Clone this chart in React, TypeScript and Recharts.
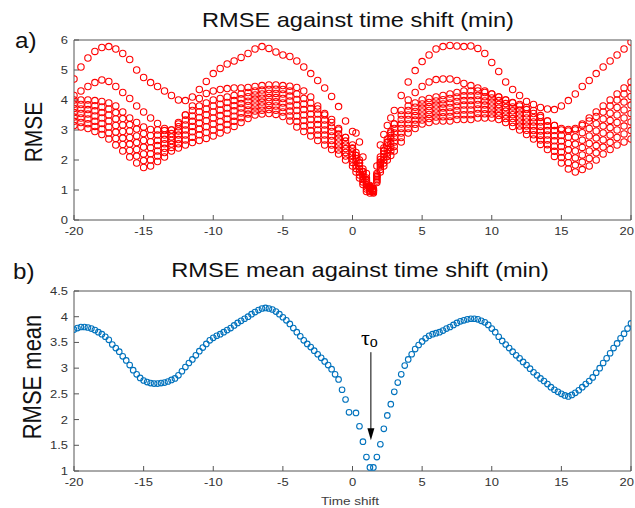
import { ScatterChart, Scatter, XAxis, YAxis, ReferenceLine, ReferenceDot } from "recharts";

// the source figure is stretched a little horizontally, text follows that
const SX = 1.18;
const SANS = "'Liberation Sans', Arial, Helvetica, sans-serif";
const SERIF = "'Liberation Serif', 'Times New Roman', serif";
const AXIS = "#555555";
const TICK_TEXT = "#333333";
const RED = "#ff0000";
const BLUE = "#0072bd";

const X_TICKS = [-20, -15, -10, -5, 0, 5, 10, 15, 20];
const TOP_Y_TICKS = [0, 1, 2, 3, 4, 5, 6];
const BOT_Y_TICKS = [1, 1.5, 2, 2.5, 3, 3.5, 4, 4.5];

// time shift (min), top panel sampling
const TOP_T = [
  -20, -19.5, -19, -18.5, -18, -17.5, -17, -16.5, -16, -15.5, -15, -14.5, -14, -13.5, -13, -12.5, -12, -11.5, -11, -10.5,
  -10, -9.5, -9, -8.5, -8, -7.5, -7, -6.5, -6, -5.5, -5, -4.5, -4, -3.5, -3, -2.5, -2, -1.5, -1, -0.5,
  0, 0.5, 1, 1.5, 2, 2.5, 3, 3.5, 4, 4.5, 5, 5.5, 6, 6.5, 7, 7.5, 8, 8.5, 9, 9.5,
  10, 10.5, 11, 11.5, 12, 12.5, 13, 13.5, 14, 14.5, 15, 15.5, 16, 16.5, 17, 17.5, 18, 18.5, 19, 19.5, 20,
];
// extra samples read around the steep minimum
const DIP_T = [0.25, 0.75, 1.25, 1.75, 2.25, 2.75];

// RMSE of each run (top panel)
const RUN_1 = [
  4.7, 5.1, 5.4, 5.62, 5.75, 5.78, 5.7, 5.55, 5.35, 5.0, 4.75, 4.58, 4.45, 4.3, 4.15, 4.0, 3.98, 4.1, 4.35, 4.62,
  4.88, 5.05, 5.2, 5.3, 5.42, 5.55, 5.7, 5.78, 5.72, 5.6, 5.5, 5.45, 5.3, 5.1, 4.88, 4.65, 4.4, 4.12, 3.78, 3.3,
  2.95, 2.6, 1.55, 0.98, 2.5, 3.15, 3.65, 4.15, 4.6, 4.98, 5.28, 5.5, 5.7, 5.78, 5.82, 5.8, 5.78, 5.8, 5.72, 5.55,
  5.25, 4.95, 4.6, 4.35, 4.15, 3.95, 3.85, 3.75, 3.7, 3.68, 3.8, 3.98, 4.2, 4.45, 4.65, 4.88, 5.1, 5.3, 5.5, 5.7, 5.93,
];
const RUN_2 = [
  4.15, 4.3, 4.45, 4.58, 4.67, 4.62, 4.45, 4.25, 4.05, 3.8, 3.6, 3.4, 3.22, 3.05, 3.0, 3.2, 3.5, 3.8, 4.05, 4.22,
  4.3, 4.35, 4.38, 4.4, 4.4, 4.42, 4.45, 4.48, 4.5, 4.5, 4.48, 4.46, 4.42, 4.3, 4.1, 3.8, 3.55, 3.35, 3.05, 2.75,
  2.4, 1.9, 1.3, 1.0, 1.9, 2.6, 3.2, 3.65, 4.0, 4.25, 4.45, 4.6, 4.68, 4.7, 4.7, 4.65, 4.55, 4.48, 4.4, 4.3,
  4.2, 4.1, 4.0, 3.92, 3.85, 3.75, 3.65, 3.48, 3.3, 3.15, 3.05, 3.02, 3.05, 3.2, 3.4, 3.6, 3.8, 4.0, 4.2, 4.4, 4.6,
];
const RUN_3 = [
  4.0, 4.0, 4.0, 3.98, 3.95, 3.9, 3.8, 3.6, 3.4, 3.25, 3.1, 3.02, 3.0, 2.98, 3.0, 3.25, 3.5, 3.65, 3.8, 3.9,
  4.0, 4.05, 4.1, 4.15, 4.2, 4.25, 4.3, 4.33, 4.35, 4.36, 4.35, 4.3, 4.2, 4.05, 3.9, 3.7, 3.5, 3.25, 3.0, 2.75,
  2.5, 2.0, 1.4, 1.05, 2.1, 2.7, 3.2, 3.5, 3.8, 3.9, 4.0, 4.05, 4.1, 4.15, 4.2, 4.25, 4.3, 4.3, 4.3, 4.25,
  4.2, 4.1, 4.0, 3.9, 3.8, 3.68, 3.55, 3.42, 3.3, 3.15, 3.0, 2.97, 3.0, 3.15, 3.3, 3.45, 3.6, 3.8, 4.0, 4.2, 4.4,
];
const RUN_4 = [
  3.86, 3.85, 3.84, 3.81, 3.77, 3.7, 3.58, 3.38, 3.18, 3.03, 2.88, 2.82, 2.83, 2.83, 2.88, 3.11, 3.33, 3.47, 3.61, 3.7,
  3.8, 3.86, 3.92, 3.98, 4.04, 4.11, 4.17, 4.2, 4.22, 4.22, 4.2, 4.13, 4.02, 3.87, 3.72, 3.53, 3.33, 3.1, 2.87, 2.63,
  2.38, 1.9, 1.33, 1.03, 2.02, 2.58, 3.05, 3.35, 3.65, 3.76, 3.87, 3.92, 3.97, 4.01, 4.05, 4.1, 4.14, 4.14, 4.15, 4.11,
  4.07, 3.98, 3.88, 3.77, 3.67, 3.54, 3.41, 3.27, 3.14, 2.98, 2.82, 2.76, 2.77, 2.91, 3.05, 3.21, 3.37, 3.56, 3.75, 3.93, 4.12,
];
const RUN_5 = [
  3.72, 3.7, 3.68, 3.64, 3.58, 3.5, 3.37, 3.17, 2.97, 2.8, 2.65, 2.61, 2.65, 2.69, 2.77, 2.97, 3.17, 3.29, 3.42, 3.51,
  3.6, 3.67, 3.73, 3.81, 3.88, 3.96, 4.03, 4.06, 4.08, 4.08, 4.05, 3.97, 3.83, 3.68, 3.53, 3.35, 3.17, 2.95, 2.73, 2.5,
  2.27, 1.8, 1.25, 1.0, 1.93, 2.47, 2.9, 3.2, 3.5, 3.62, 3.73, 3.78, 3.83, 3.87, 3.9, 3.95, 3.98, 3.98, 4.0, 3.97,
  3.93, 3.85, 3.75, 3.64, 3.53, 3.4, 3.27, 3.12, 2.98, 2.81, 2.63, 2.55, 2.53, 2.66, 2.8, 2.97, 3.13, 3.32, 3.5, 3.67, 3.83,
];
const RUN_6 = [
  3.58, 3.55, 3.53, 3.47, 3.4, 3.3, 3.15, 2.95, 2.75, 2.58, 2.43, 2.41, 2.48, 2.54, 2.65, 2.83, 3.0, 3.12, 3.23, 3.31,
  3.4, 3.48, 3.55, 3.64, 3.73, 3.82, 3.9, 3.93, 3.95, 3.94, 3.9, 3.8, 3.65, 3.5, 3.35, 3.18, 3.0, 2.8, 2.6, 2.38,
  2.15, 1.7, 1.18, 0.98, 1.85, 2.35, 2.75, 3.05, 3.35, 3.48, 3.6, 3.65, 3.7, 3.73, 3.75, 3.8, 3.83, 3.83, 3.85, 3.83,
  3.8, 3.73, 3.63, 3.51, 3.4, 3.27, 3.13, 2.97, 2.83, 2.64, 2.45, 2.34, 2.3, 2.42, 2.55, 2.73, 2.9, 3.08, 3.25, 3.4, 3.55,
];
const RUN_7 = [
  3.43, 3.4, 3.37, 3.29, 3.22, 3.1, 2.93, 2.73, 2.53, 2.35, 2.2, 2.21, 2.3, 2.39, 2.53, 2.68, 2.83, 2.94, 3.03, 3.11,
  3.2, 3.28, 3.37, 3.46, 3.57, 3.67, 3.77, 3.8, 3.82, 3.8, 3.75, 3.63, 3.47, 3.32, 3.17, 3.0, 2.83, 2.65, 2.47, 2.25,
  2.03, 1.6, 1.1, 0.95, 1.77, 2.23, 2.6, 2.9, 3.2, 3.33, 3.47, 3.52, 3.57, 3.58, 3.6, 3.65, 3.67, 3.67, 3.7, 3.68,
  3.67, 3.6, 3.5, 3.38, 3.27, 3.13, 2.98, 2.82, 2.67, 2.46, 2.27, 2.12, 2.07, 2.17, 2.3, 2.48, 2.67, 2.83, 3.0, 3.13, 3.27,
];
const RUN_8 = [
  3.29, 3.25, 3.21, 3.12, 3.03, 2.9, 2.72, 2.52, 2.32, 2.13, 1.98, 2.0, 2.13, 2.25, 2.42, 2.54, 2.67, 2.76, 2.84, 2.92,
  3.0, 3.09, 3.18, 3.29, 3.41, 3.53, 3.63, 3.66, 3.68, 3.66, 3.6, 3.47, 3.28, 3.13, 2.98, 2.83, 2.67, 2.5, 2.33, 2.13,
  1.92, 1.5, 1.03, 0.93, 1.68, 2.12, 2.45, 2.75, 3.05, 3.19, 3.33, 3.38, 3.43, 3.44, 3.45, 3.5, 3.51, 3.51, 3.55, 3.54,
  3.53, 3.48, 3.38, 3.25, 3.13, 2.99, 2.84, 2.67, 2.51, 2.29, 2.08, 1.91, 1.83, 1.93, 2.05, 2.24, 2.43, 2.59, 2.75, 2.87, 2.98,
];
const RUN_9 = [
  3.15, 3.1, 3.05, 2.95, 2.85, 2.7, 2.5, 2.3, 2.1, 1.9, 1.75, 1.8, 1.95, 2.1, 2.3, 2.4, 2.5, 2.58, 2.65, 2.72,
  2.8, 2.9, 3.0, 3.12, 3.25, 3.38, 3.5, 3.53, 3.55, 3.52, 3.45, 3.3, 3.1, 2.95, 2.8, 2.65, 2.5, 2.35, 2.2, 2.0,
  1.8, 1.4, 0.95, 0.9, 1.6, 2.0, 2.3, 2.6, 2.9, 3.05, 3.2, 3.25, 3.3, 3.3, 3.3, 3.35, 3.35, 3.35, 3.4, 3.4,
  3.4, 3.35, 3.25, 3.12, 3.0, 2.85, 2.7, 2.52, 2.35, 2.12, 1.9, 1.7, 1.6, 1.68, 1.8, 2.0, 2.2, 2.35, 2.5, 2.6, 2.7,
];
const RUNS = [RUN_1, RUN_2, RUN_3, RUN_4, RUN_5, RUN_6, RUN_7, RUN_8, RUN_9];

// values of each run at DIP_T
const DIP_1 = [2.9, 2.1, 1.1, 1.8, 2.85, 3.4];
const DIP_2 = [2.15, 1.6, 1.05, 1.45, 2.3, 2.9];
const DIP_3 = [2.25, 1.7, 1.15, 1.55, 2.4, 2.95];
const DIP_4 = [2.15, 1.62, 1.12, 1.5, 2.3, 2.82];
const DIP_5 = [2.05, 1.52, 1.08, 1.45, 2.2, 2.7];
const DIP_6 = [1.95, 1.45, 1.05, 1.4, 2.1, 2.55];
const DIP_7 = [1.82, 1.35, 1.0, 1.35, 2.0, 2.42];
const DIP_8 = [1.72, 1.27, 0.96, 1.3, 1.9, 2.3];
const DIP_9 = [1.6, 1.18, 0.9, 1.25, 1.8, 2.15];
const DIPS = [DIP_1, DIP_2, DIP_3, DIP_4, DIP_5, DIP_6, DIP_7, DIP_8, DIP_9];

// bottom panel sampling and mean RMSE (no marker visible at 0)
const MEAN_T = [
  -20, -19.75, -19.5, -19.25, -19, -18.75, -18.5, -18.25, -18, -17.75,
  -17.5, -17.25, -17, -16.75, -16.5, -16.25, -16, -15.75, -15.5, -15.25,
  -15, -14.75, -14.5, -14.25, -14, -13.75, -13.5, -13.25, -13, -12.75,
  -12.5, -12.25, -12, -11.75, -11.5, -11.25, -11, -10.75, -10.5, -10.25,
  -10, -9.75, -9.5, -9.25, -9, -8.75, -8.5, -8.25, -8, -7.75,
  -7.5, -7.25, -7, -6.75, -6.5, -6.25, -6, -5.75, -5.5, -5.25,
  -5, -4.75, -4.5, -4.25, -4, -3.75, -3.5, -3.25, -3, -2.75,
  -2.5, -2.25, -2, -1.75, -1.5, -1.25, -1, -0.75, -0.5, -0.25,
  0,
  0.25, 0.5, 0.75, 1, 1.25, 1.5, 1.75, 2, 2.25, 2.5,
  2.75, 3, 3.25, 3.5, 3.75, 4, 4.25, 4.5, 4.75, 5,
  5.25, 5.5, 5.75, 6, 6.25, 6.5, 6.75, 7, 7.25, 7.5,
  7.75, 8, 8.25, 8.5, 8.75, 9, 9.25, 9.5, 9.75, 10,
  10.25, 10.5, 10.75, 11, 11.25, 11.5, 11.75, 12, 12.25, 12.5,
  12.75, 13, 13.25, 13.5, 13.75, 14, 14.25, 14.5, 14.75, 15,
  15.25, 15.5, 15.75, 16, 16.25, 16.5, 16.75, 17, 17.25, 17.5,
  17.75, 18, 18.25, 18.5, 18.75, 19, 19.25, 19.5, 19.75, 20,
];
const MEAN_RMSE = [
  3.75, 3.78, 3.8, 3.8, 3.79, 3.77, 3.74, 3.7, 3.66, 3.61,
  3.55, 3.46, 3.39, 3.32, 3.23, 3.15, 3.06, 2.96, 2.88, 2.81,
  2.76, 2.73, 2.71, 2.7, 2.7, 2.71, 2.72, 2.74, 2.77, 2.8,
  2.86, 2.94, 3.02, 3.1, 3.17, 3.25, 3.33, 3.4, 3.47, 3.54,
  3.59, 3.63, 3.66, 3.7, 3.74, 3.78, 3.83, 3.88, 3.92, 3.96,
  4.0, 4.05, 4.09, 4.13, 4.16, 4.17, 4.16, 4.14, 4.1, 4.05,
  3.99, 3.93, 3.86, 3.78, 3.7, 3.62, 3.54, 3.47, 3.41, 3.34,
  3.27, 3.2, 3.13, 3.06, 2.98, 2.88, 2.78, 2.58, 2.39, 2.14,
  null,
  2.13, 1.87, 1.57, 1.27, 1.07, 1.07, 1.27, 1.52, 1.82, 2.08,
  2.3, 2.54, 2.72, 2.88, 3.05, 3.17, 3.27, 3.37, 3.45, 3.52,
  3.58, 3.63, 3.66, 3.68, 3.7, 3.73, 3.77, 3.8, 3.84, 3.88,
  3.91, 3.93, 3.95, 3.96, 3.96, 3.95, 3.92, 3.89, 3.84, 3.77,
  3.7, 3.61, 3.53, 3.46, 3.39, 3.32, 3.25, 3.19, 3.12, 3.06,
  2.99, 2.92, 2.86, 2.8, 2.75, 2.69, 2.63, 2.58, 2.54, 2.5,
  2.47, 2.45, 2.48, 2.52, 2.57, 2.63, 2.69, 2.75, 2.82, 2.91,
  3.0, 3.1, 3.19, 3.29, 3.39, 3.48, 3.58, 3.67, 3.77, 3.87,
];

// tau_o marker: arrow from the label down to the minimum
const TAU = 1.32;
const ARROW_TOP = 3.31;
const ARROW_TIP = 1.6;

const XTick = ({ x, y, payload }: any) => {
  // last label is pulled in so it stays inside the page
  const last = payload.value === X_TICKS[X_TICKS.length - 1];
  return (
    <text
      transform={`translate(${last ? x + 3 : x},${y}) scale(${SX},1)`}
      textAnchor={last ? "end" : "middle"}
      dy={8}
      fontSize={11}
      fontFamily={SANS}
      fill={TICK_TEXT}
    >
      {payload.value}
    </text>
  );
};

const YTick = ({ x, y, payload }: any) => (
  <text
    transform={`translate(${x},${y}) scale(${SX},1)`}
    textAnchor="end"
    dy={4}
    fontSize={11}
    fontFamily={SANS}
    fill={TICK_TEXT}
  >
    {payload.value}
  </text>
);

const ring = (color: string, r: number) => (p: any) => (
  <circle cx={p.cx} cy={p.cy} r={r} fill="none" stroke={color} strokeWidth={1.1} />
);

// four sided box with inward ticks, like the original figure
function Frame({ yDomain, yTicks }: { yDomain: [number, number]; yTicks: number[] }) {
  return (
    <>
      <XAxis
        type="number"
        dataKey="t"
        domain={[-20, 20]}
        ticks={X_TICKS}
        interval={0}
        height={25}
        tickSize={-5}
        tickMargin={12}
        stroke={AXIS}
        tick={<XTick />}
        allowDataOverflow
      />
      <XAxis
        xAxisId="top"
        orientation="top"
        type="number"
        domain={[-20, 20]}
        ticks={X_TICKS}
        interval={0}
        height={1}
        tickSize={-5}
        stroke={AXIS}
        tick={false}
        allowDataOverflow
      />
      <YAxis
        type="number"
        dataKey="v"
        domain={yDomain}
        ticks={yTicks}
        interval={0}
        width={30}
        tickSize={-5}
        tickMargin={11}
        stroke={AXIS}
        tick={<YTick />}
        allowDataOverflow
      />
      <YAxis
        yAxisId="right"
        orientation="right"
        type="number"
        domain={yDomain}
        ticks={yTicks}
        interval={0}
        width={1}
        tickSize={-5}
        stroke={AXIS}
        tick={false}
        allowDataOverflow
      />
    </>
  );
}

export default function App() {
  const meanData = MEAN_T.map((t, i) => ({ t, v: MEAN_RMSE[i] })).filter((d) => d.v !== null);
  const runData = RUNS.map((run, k) => [
    ...TOP_T.map((t, i) => ({ t, v: run[i] })),
    ...DIP_T.map((t, i) => ({ t, v: DIPS[k][i] })),
  ]);

  return (
    <div style={{ position: "absolute", left: 0, top: 0, width: 635, height: 508, background: "#fff", overflow: "hidden" }}>
      <div style={{ position: "absolute", left: 0, top: 0 }}>
        <ScatterChart width={635} height={245} margin={{ top: 39, right: 3, bottom: 0, left: 44 }}>
          {Frame({ yDomain: [0, 6], yTicks: TOP_Y_TICKS })}
          {runData.map((data, k) => (
            <Scatter key={k} data={data} shape={ring(RED, 3.2)} isAnimationActive={false} />
          ))}
        </ScatterChart>
      </div>

      <div style={{ position: "absolute", left: 0, top: 250 }}>
        <ScatterChart width={635} height={246} margin={{ top: 40, right: 3, bottom: 0, left: 44 }}>
          {Frame({ yDomain: [1, 4.5], yTicks: BOT_Y_TICKS })}
          <Scatter data={meanData} shape={ring(BLUE, 2.8)} isAnimationActive={false} />
          <ReferenceLine
            segment={[{ x: TAU, y: ARROW_TOP }, { x: TAU, y: ARROW_TIP + 0.2 }]}
            stroke="#000"
            strokeWidth={1}
          />
          <ReferenceDot
            x={TAU}
            y={ARROW_TIP}
            shape={(p: any) => (
              <path d={`M${p.cx},${p.cy} L${p.cx - 3.5},${p.cy - 12} L${p.cx + 3.5},${p.cy - 12} Z`} fill="#000" />
            )}
          />
          <ReferenceDot
            x={TAU}
            y={ARROW_TOP}
            shape={(p: any) => (
              <text x={p.cx - 10} y={p.cy - 7} fontFamily={SERIF} fontSize={22} fill="#000">
                τ<tspan fontSize={16} dy={2}>o</tspan>
              </text>
            )}
          />
        </ScatterChart>
      </div>

      <svg width={635} height={508} style={{ position: "absolute", left: 0, top: 0, pointerEvents: "none" }}>
        <g fontFamily={SANS} fill="#111">
          <text transform={`translate(358,27) scale(${SX},1)`} textAnchor="middle" fontSize={20}>
            RMSE against time shift (min)
          </text>
          <text transform={`translate(15,48) scale(1.1,1)`} fontSize={22}>
            a)
          </text>
          <text transform={`translate(42,132) scale(${SX},1) rotate(-90)`} textAnchor="middle" fontSize={21}>
            RMSE
          </text>

          <text transform={`translate(360,277) scale(${SX},1)`} textAnchor="middle" fontSize={20}>
            RMSE mean against time shift (min)
          </text>
          <text transform={`translate(13,279) scale(1.1,1)`} fontSize={22}>
            b)
          </text>
          <text transform={`translate(41,377) scale(${SX},1) rotate(-90)`} textAnchor="middle" fontSize={22}>
            RMSE mean
          </text>
          <text transform={`translate(350,505) scale(${SX},1)`} textAnchor="middle" fontSize={11.5} fill="#404040">
            Time shift
          </text>
        </g>
      </svg>
    </div>
  );
}
